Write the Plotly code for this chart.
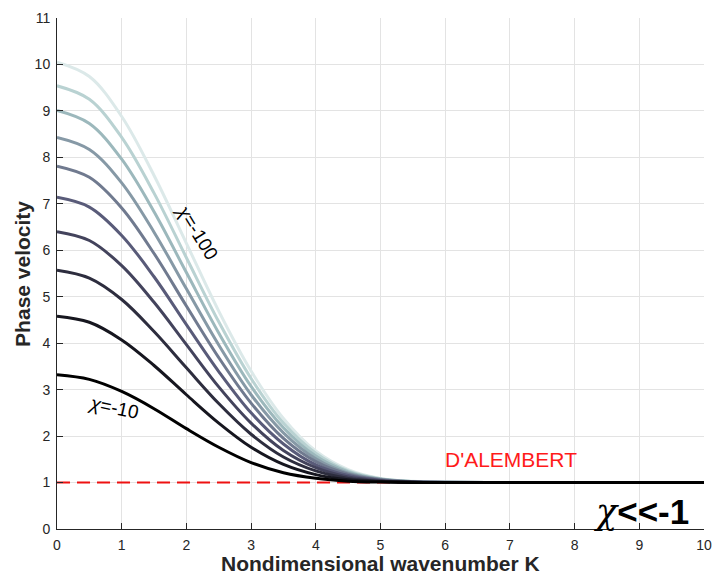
import plotly.graph_objects as go

# Nondimensional wavenumber K (sample points)
K = [0, 0.5, 1, 1.5, 2, 2.5, 3, 3.5, 4, 4.5, 5, 5.5, 6, 7, 8, 9, 10]

chi_labels = [-10, -20, -30, -40, -50, -60, -70, -80, -90, -100]

c_chi10 = [3.32, 3.22, 2.96, 2.59, 2.16, 1.76, 1.43, 1.21, 1.09, 1.03, 1.01, 1.003, 1.001, 1.0, 1.0, 1.0, 1.0]
c_chi20 = [4.58, 4.45, 4.07, 3.52, 2.89, 2.28, 1.76, 1.39, 1.17, 1.06, 1.02, 1.005, 1.001, 1.0, 1.0, 1.0, 1.0]
c_chi30 = [5.57, 5.40, 4.94, 4.25, 3.47, 2.70, 2.04, 1.55, 1.25, 1.09, 1.03, 1.008, 1.002, 1.0, 1.0, 1.0, 1.0]
c_chi40 = [6.40, 6.21, 5.67, 4.88, 3.97, 3.06, 2.28, 1.69, 1.32, 1.12, 1.04, 1.010, 1.002, 1.0, 1.0, 1.0, 1.0]
c_chi50 = [7.14, 6.93, 6.32, 5.43, 4.40, 3.39, 2.50, 1.83, 1.38, 1.15, 1.05, 1.013, 1.003, 1.0, 1.0, 1.0, 1.0]
c_chi60 = [7.81, 7.57, 6.91, 5.93, 4.80, 3.69, 2.71, 1.95, 1.45, 1.18, 1.06, 1.016, 1.004, 1.0, 1.0, 1.0, 1.0]
c_chi70 = [8.43, 8.17, 7.45, 6.39, 5.17, 3.96, 2.89, 2.07, 1.51, 1.20, 1.07, 1.018, 1.004, 1.0, 1.0, 1.0, 1.0]
c_chi80 = [9.01, 8.73, 7.96, 6.83, 5.52, 4.22, 3.07, 2.18, 1.57, 1.23, 1.07, 1.021, 1.005, 1.0, 1.0, 1.0, 1.0]
c_chi90 = [9.54, 9.25, 8.43, 7.23, 5.84, 4.46, 3.24, 2.28, 1.63, 1.25, 1.08, 1.023, 1.006, 1.0, 1.0, 1.0, 1.0]
c_chi100 = [10.05, 9.74, 8.88, 7.61, 6.15, 4.69, 3.40, 2.38, 1.68, 1.28, 1.09, 1.026, 1.006, 1.0, 1.0, 1.0, 1.0]

series = [c_chi10, c_chi20, c_chi30, c_chi40, c_chi50,
          c_chi60, c_chi70, c_chi80, c_chi90, c_chi100]

# bone-like colormap, dark -> light
colors = ["#000000", "#16161f", "#2d2d3e", "#43435c", "#595b79",
          "#707a8f", "#8699a6", "#9cb8bc", "#b9d2d2", "#dce9e9"]

dalembert_x = [0, 10]
dalembert_y = [1, 1]

FONT = "Liberation Sans, Arial, sans-serif"

fig = go.Figure()

fig.add_trace(go.Scatter(x=dalembert_x, y=dalembert_y, mode="lines",
                         line=dict(color="#ee1111", width=2, dash="13px,7px"),
                         showlegend=False, hoverinfo="skip"))

for vals, col, ch in reversed(list(zip(series, colors, chi_labels))):
    fig.add_trace(go.Scatter(x=K, y=vals, mode="lines", name=f"chi={ch}",
                             line=dict(color=col, width=3, shape="spline", smoothing=1.0),
                             showlegend=False))

axis_common = dict(
    showgrid=True, gridcolor="#e3e3e3", gridwidth=1,
    showline=True, linecolor="#262626", linewidth=1,
    ticks="inside", ticklen=6, tickcolor="#262626",
    tickfont=dict(family=FONT, size=14, color="#262626"),
    zeroline=False, mirror=False, automargin=False,
    ticklabelstandoff=3,
)

fig.update_xaxes(range=[0, 10], dtick=1, tick0=0, **axis_common)
fig.update_yaxes(range=[0, 11], dtick=1, tick0=0, **axis_common)

annotations = [
    dict(x=0.5, y=-0.068, xref="paper", yref="paper", xanchor="center", yanchor="middle",
         text="<b>Nondimensional wavenumber K</b>", showarrow=False,
         font=dict(family=FONT, size=21, color="#262626")),
    dict(x=-0.0535, y=0.5, xref="paper", yref="paper", xanchor="center", yanchor="middle",
         text="<b>Phase velocity</b>", textangle=-90, showarrow=False,
         font=dict(family=FONT, size=21, color="#262626")),
    dict(x=2.17, y=6.38, text="<i>χ</i>=-100", textangle=58, showarrow=False,
         font=dict(family=FONT, size=19, color="#000000")),
    dict(x=0.88, y=2.62, text="<i>χ</i>=-10", textangle=12, showarrow=False,
         font=dict(family=FONT, size=19, color="#000000")),
    dict(x=7.02, y=1.49, text="D'ALEMBERT", showarrow=False,
         font=dict(family=FONT, size=21, color="#ff1a1a")),
    dict(x=9.03, y=0.37, text="<span style='font-family:DejaVu Serif'><i>χ</i></span><b>&lt;&lt;-1</b>",
         showarrow=False,
         font=dict(family=FONT, size=35, color="#000000")),
]

fig.update_layout(
    width=714, height=576,
    margin=dict(l=57, r=10, t=18, b=47, autoexpand=False),
    paper_bgcolor="white", plot_bgcolor="white",
    annotations=annotations,
    showlegend=False,
)

fig.write_html("out.html")
